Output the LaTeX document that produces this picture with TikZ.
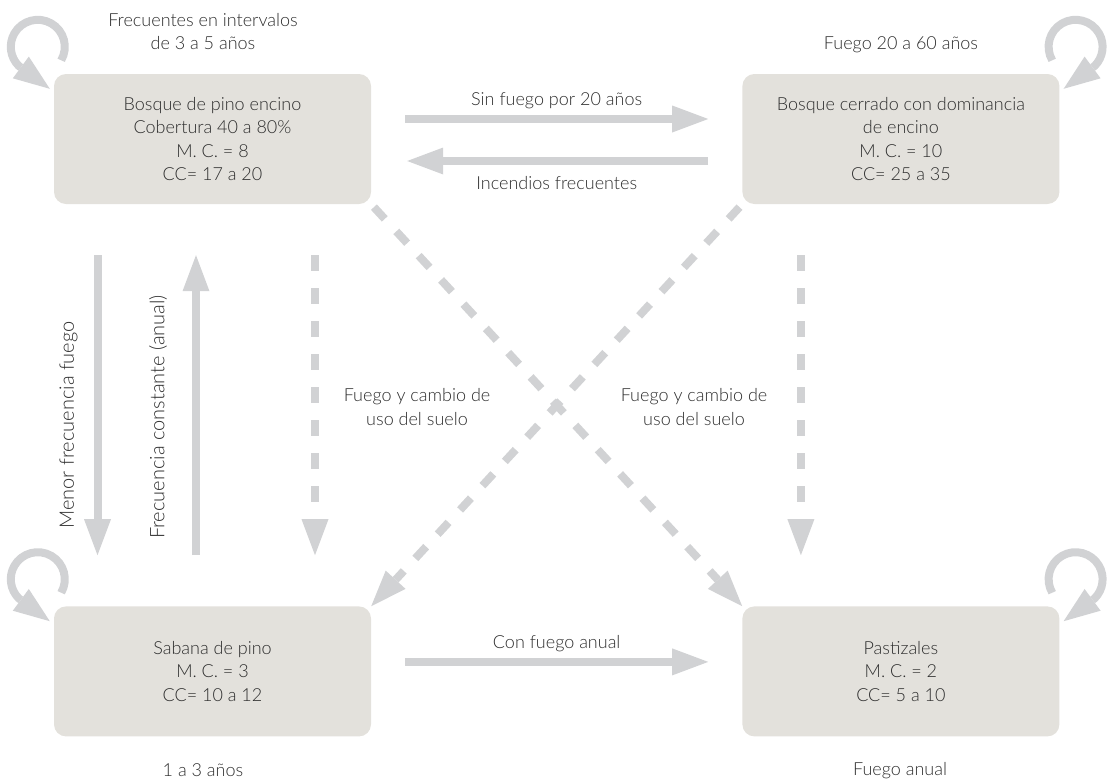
\documentclass[tikz,border=0pt]{standalone}
\usepackage{fontspec}
\setmainfont{Lato Light}
\usepackage{tikz}
\usetikzlibrary{positioning, arrows.meta}
\definecolor{BoxGray}{RGB}{227,225,220}
\definecolor{ArrowGray}{RGB}{209,210,212}
\definecolor{TextGray}{RGB}{45,45,45}

\begin{document}
\begin{tikzpicture}[
    x=1pt, y=-1pt,
    every node/.style={
        font=\fontsize{18}{23.5}\selectfont,
        text=TextGray,
        align=center,
        inner sep=0pt
    },
    state/.style={fill=BoxGray, rounded corners=12pt, minimum width=317pt, minimum height=130pt},
    sidelabel/.style={rotate=90, font=\fontsize{20}{24}\selectfont},
    flow/.style={draw=ArrowGray, line width=8pt, -{Triangle[width=27pt, length=36pt, line width=0pt]}},
    dashflow/.style={flow, dash pattern=on 16pt off 17pt}
]
\useasboundingbox (0,0) rectangle (1107,782);

% States
\node[state] (pinoencino) at (212.5,139) {Bosque de pino encino\\Cobertura 40 a 80\%\\M. C. = 8\\CC= 17 a 20};
\node[state, right=371pt of pinoencino] (encino) {Bosque cerrado con dominancia\\de encino\\M. C. = 10\\CC= 25 a 35};
\node[state, below=402pt of pinoencino] (sabana) {Sabana de pino\\M. C. = 3\\CC= 10 a 12};
\node[state, right=371pt of sabana] (pastizal) {Pastizales\\M. C. = 2\\CC= 5 a 10};

% Fire regime labels
\node (frecpino) at (203,31.5) {Frecuentes en intervalos\\de 3 a 5 años};
\node (frecencino) at (901,45) {Fuego 20 a 60 años};
\node (frecsabana) at (203,770.5) {1 a 3 años};
\node (frecpastizal) at (900,770.5) {Fuego anual};

% Self loops
\draw[flow] ([shift={(-16,-27)}]pinoencino.north west) ++(30:27) arc[start angle=30, end angle=-225, radius=27] -- ([shift={(-4,15)}]pinoencino.north west);
\draw[flow] ([shift={(16,-27)}]encino.north east) ++(150:27) arc[start angle=150, end angle=405, radius=27] -- ([shift={(4,15)}]encino.north east);
\draw[flow] ([shift={(-16,-27)}]sabana.north west) ++(30:27) arc[start angle=30, end angle=-225, radius=27] -- ([shift={(-4,15)}]sabana.north west);
\draw[flow] ([shift={(16,-27)}]pastizal.north east) ++(150:27) arc[start angle=150, end angle=405, radius=27] -- ([shift={(4,15)}]pastizal.north east);

% Horizontal transitions
\draw[flow, shorten <=34pt, shorten >=34pt] ([yshift=20pt]pinoencino.east) -- node[midway, yshift=18.5pt] {Sin fuego por 20 años} ([yshift=20pt]encino.west);
\draw[flow, shorten <=34pt, shorten >=36pt] ([yshift=-22pt]encino.west) -- node[midway, yshift=-22.5pt] {Incendios frecuentes} ([yshift=-22pt]pinoencino.east);
\draw[flow, shorten <=34pt, shorten >=34pt] ([yshift=9.5pt]sabana.east) -- node[midway, yshift=18.5pt] {Con fuego anual} ([yshift=9.5pt]pastizal.west);

% Vertical transitions
\draw[flow, shorten <=51pt, shorten >=51pt] ([xshift=-115pt]pinoencino.south) -- ([xshift=-115pt]sabana.north);
\draw[flow, shorten <=51pt, shorten >=51pt] ([xshift=-16.5pt]sabana.north) -- ([xshift=-16.5pt]pinoencino.south);
\draw[dashflow, shorten <=51pt, shorten >=51pt] ([xshift=102.5pt]pinoencino.south) -- ([xshift=102.5pt]sabana.north);
\draw[dashflow, shorten <=51pt, shorten >=51pt] ([xshift=-100pt]encino.south) -- ([xshift=-100pt]pastizal.north);
\node[sidelabel] (menorlbl) at (68.5,425) {Menor frecuencia fuego};
\node[sidelabel] (constlbl) at (158,417) {Frecuencia constante (anual)};

% Diagonal transitions
\draw[dashflow, shorten <=4pt] (pinoencino.south east) -- (pastizal.north west);
\draw[dashflow, shorten <=4pt] (encino.south west) -- (sabana.north east);
\node (usopino) at (417,407) {Fuego y cambio de\\uso del suelo};
\node (usoencino) at (694,407) {Fuego y cambio de\\uso del suelo};
\end{tikzpicture}
\end{document}
